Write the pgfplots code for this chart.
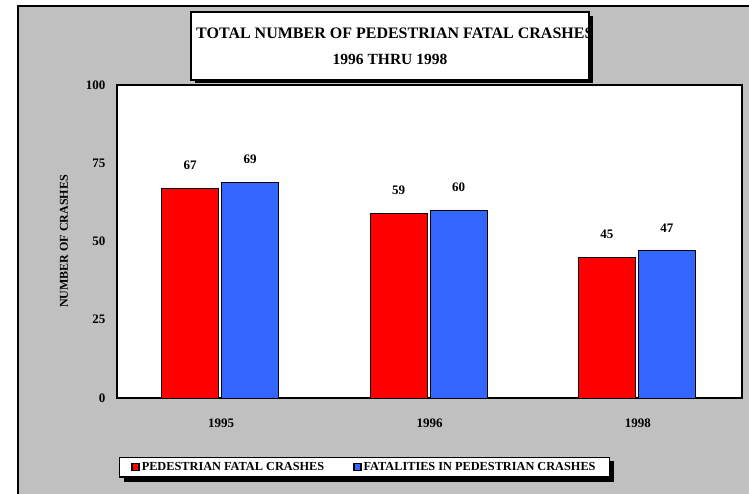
\documentclass[border=0pt]{standalone}
\usepackage{fontspec}
\setmainfont{Liberation Serif}
\usepackage{pgfplots}
\pgfplotsset{compat=1.18}
\definecolor{barred}{RGB}{255,0,0}
\definecolor{barblue}{RGB}{51,102,255}
\definecolor{panel}{RGB}{192,192,192}
\newcommand{\fs}[1]{\fontsize{#1}{#1}\selectfont\bfseries}

\begin{document}
\begin{tikzpicture}
\useasboundingbox (0,0) rectangle (749pt,494pt);
\fill[white] (0,0) rectangle (749pt,494pt);
\fill[panel] (18pt,0) rectangle (749pt,488pt);
\draw[line width=1.6pt] (18pt,0) -- (18pt,488pt) -- (749pt,488pt);

% title box
\fill[black] (195pt,411pt) rectangle (593pt,478pt);
\filldraw[fill=white, draw=black, line width=1.4pt] (191pt,414pt) rectangle (589pt,482pt);
\begin{scope}
\clip (191pt,414pt) rectangle (588pt,482pt);
\node[anchor=west, inner sep=0pt] at (196pt,461pt) {\fs{16}TOTAL NUMBER OF PEDESTRIAN FATAL CRASHES};
\end{scope}
\node[inner sep=0pt] at (390pt,435pt) {\fs{15.5}1996 THRU 1998};

% legend shadow
\fill[black] (124pt,12pt) rectangle (614pt,33pt);

\begin{axis}[
    at={(117pt,96pt)}, anchor=south west,
    scale only axis, width=625pt, height=313pt,
    axis background/.style={fill=white},
    axis line style={line width=1.4pt},
    ybar, bar width=57pt,
    xmin=-0.5, xmax=2.5,
    ymin=0, ymax=100,
    xtick={0,1,2},
    xticklabels={1995,1996,1998},
    ytick={0,25,50,75,100},
    major tick length=0pt,
    /pgf/number format/assume math mode=true,
    ticklabel style={font=\fs{13}},
    xticklabel style={yshift=-17pt},
    yticklabel style={xshift=-8pt},
    ylabel={NUMBER OF CRASHES},
    ylabel style={font=\fs{12}, at={(axis description cs:-0.085,0.5)}, anchor=center},
    nodes near coords,
    nodes near coords style={font=\fs{13}, anchor=south, yshift=15pt},
    clip=false,
    legend columns=2,
    legend style={at={(0.003,-0.188)}, anchor=north west,
        draw=black, line width=1.2pt, fill=white,
        font=\fs{12.3}, inner ysep=3pt, inner xsep=12pt,
        /tikz/every even column/.append style={column sep=27pt}},
]
\addplot[fill=barred, draw=black, line width=0.8pt, bar shift=-31pt,
    legend image code/.code={\draw[fill=barred, draw=black, line width=1.3pt] (-1pt,-3.5pt) rectangle (6pt,3.5pt);}]
    coordinates {(0,67) (1,59) (2,45)};
\addplot[fill=barblue, draw=black, line width=0.8pt, bar shift=29pt,
    legend image code/.code={\draw[fill=barblue, draw=black, line width=1.3pt] (-1pt,-3.5pt) rectangle (6pt,3.5pt);}]
    coordinates {(0,69) (1,60) (2,47)};
\legend{PEDESTRIAN FATAL CRASHES, FATALITIES IN PEDESTRIAN CRASHES}
\end{axis}
\end{tikzpicture}
\end{document}
